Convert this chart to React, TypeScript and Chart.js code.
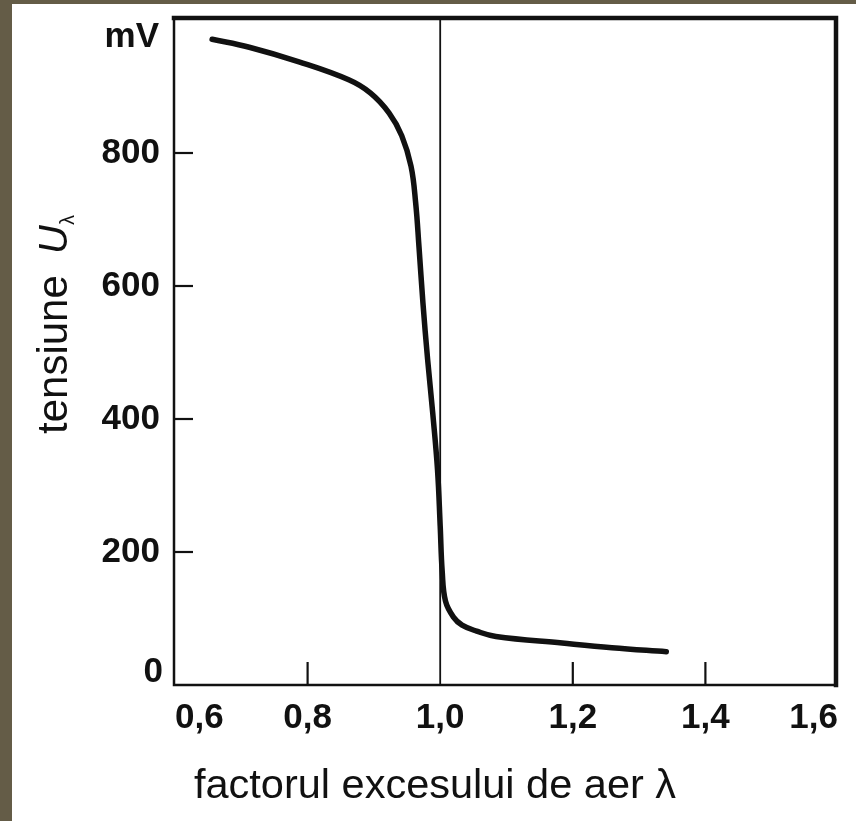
import React, { useEffect, useRef } from "react";
import { Chart, registerables } from "chart.js";

Chart.register(...registerables);

// Data (λ, mV)
const lambdaValues = [0.656, 0.712, 0.787, 0.862, 0.895, 0.923, 0.942, 0.956, 0.963, 0.968, 0.974, 0.981, 0.989, 0.996, 1.0, 1.003, 1.008, 1.02, 1.033, 1.055, 1.084, 1.184, 1.259, 1.341];
const voltageValues = [971, 959, 937, 910, 890, 860, 826, 780, 725, 659, 574, 490, 406, 323, 239, 171, 126, 102, 90, 81, 73, 63, 56, 50];

// Axis ticks
const xTickValues = [0.6, 0.8, 1.0, 1.2, 1.4, 1.6];
const yTickValues = [0, 200, 400, 600, 800, 1000];
const xInnerTickMarks = [0.8, 1.2, 1.4];
const yInnerTickMarks = [200, 400, 600, 800];
const stoichLambda = 1.0;

const xTitle = "factorul excesului de aer λ";
const yTitleMain = "tensiune";
const yTitleSymbol = "U";
const yTitleSub = "λ";
const yTopLabel = "mV";
const yZeroLabel = "0";

const FONT = "'Liberation Sans', Arial, Helvetica, sans-serif";
const INK = "#111111";

const decorPlugin = {
  id: "decor",
  beforeDatasetsDraw(chart: any) {
    const { ctx, chartArea, scales } = chart;
    const xs = scales.x;
    const ys = scales.y;
    const left = chartArea.left - 1;
    const bottom = chartArea.bottom;
    ctx.save();
    ctx.strokeStyle = INK;
    ctx.lineCap = "square";
    // left and bottom axes
    ctx.lineWidth = 2.5;
    ctx.beginPath();
    ctx.moveTo(left, chartArea.top - 2);
    ctx.lineTo(left, bottom);
    ctx.lineTo(chartArea.right - 2, bottom);
    ctx.stroke();
    // top and right frame (thicker)
    ctx.lineWidth = 4.5;
    ctx.beginPath();
    ctx.moveTo(left, chartArea.top - 2);
    ctx.lineTo(chartArea.right - 2, chartArea.top - 2);
    ctx.lineTo(chartArea.right - 2, bottom);
    ctx.stroke();
    // vertical line at λ = 1
    ctx.lineCap = "butt";
    ctx.lineWidth = 1.8;
    const x1 = xs.getPixelForValue(stoichLambda);
    ctx.beginPath();
    ctx.moveTo(x1, chartArea.top);
    ctx.lineTo(x1, bottom);
    ctx.stroke();
    // inner tick marks
    ctx.lineWidth = 2.2;
    for (const v of xInnerTickMarks) {
      const px = xs.getPixelForValue(v);
      ctx.beginPath();
      ctx.moveTo(px, bottom);
      ctx.lineTo(px, bottom - 23);
      ctx.stroke();
    }
    for (const v of yInnerTickMarks) {
      const py = ys.getPixelForValue(v);
      ctx.beginPath();
      ctx.moveTo(left, py);
      ctx.lineTo(left + 19, py);
      ctx.stroke();
    }
    ctx.restore();
  },
  afterDraw(chart: any) {
    const { ctx, chartArea } = chart;
    ctx.save();
    ctx.fillStyle = INK;
    // special y labels
    ctx.font = `bold 35px ${FONT}`;
    ctx.textAlign = "right";
    ctx.textBaseline = "middle";
    ctx.fillText(yTopLabel, 159, 37);
    ctx.fillText(yZeroLabel, 163, chartArea.bottom - 13);
    // x title
    ctx.font = `41.5px ${FONT}`;
    ctx.textAlign = "center";
    ctx.textBaseline = "alphabetic";
    ctx.fillText(xTitle, 435, 798);
    // y title (rotated)
    ctx.translate(67, 434);
    ctx.rotate(-Math.PI / 2);
    ctx.textAlign = "left";
    ctx.font = `42px ${FONT}`;
    ctx.fillText(yTitleMain, 0, 0);
    ctx.font = `italic 40px ${FONT}`;
    ctx.fillText(yTitleSymbol, 180, 0);
    ctx.font = `20px ${FONT}`;
    ctx.fillText(yTitleSub, 209, 7);
    ctx.restore();
  },
};

export default function App() {
  const canvasRef = useRef<HTMLCanvasElement | null>(null);

  useEffect(() => {
    const canvas = canvasRef.current;
    if (!canvas) return;
    const points = lambdaValues.map((x, i) => ({ x, y: voltageValues[i] }));
    const chart = new Chart(canvas, {
      type: "line",
      data: {
        datasets: [
          {
            data: points,
            borderColor: INK,
            borderWidth: 5.5,
            pointRadius: 0,
            fill: false,
            tension: 0.4,
            borderCapStyle: "round",
            borderJoinStyle: "round",
          } as any,
        ],
      },
      options: {
        responsive: false,
        animation: false,
        layout: { padding: { top: 20, right: 18, left: 0, bottom: 0 } },
        plugins: {
          legend: { display: false },
          tooltip: { enabled: false },
          title: { display: false },
        },
        scales: {
          x: {
            type: "linear",
            min: 0.6,
            max: 1.6,
            afterBuildTicks: (s: any) => {
              s.ticks = xTickValues.map((v) => ({ value: v }));
            },
            afterFit: (s: any) => {
              s.height = 136;
              s.paddingLeft = 0;
              s.paddingRight = 0;
            },
            ticks: {
              autoSkip: false,
              maxRotation: 0,
              align: "inner",
              padding: 12,
              color: INK,
              font: { family: FONT, size: 35, weight: "bold" },
              callback: (v: any) => Number(v).toFixed(1).replace(".", ","),
            },
            grid: { display: false, drawTicks: false },
            border: { display: false },
          },
          y: {
            type: "linear",
            min: 0,
            max: 1000,
            afterBuildTicks: (s: any) => {
              s.ticks = yTickValues.map((v) => ({ value: v }));
            },
            afterFit: (s: any) => {
              s.width = 175;
              s.paddingTop = 0;
              s.paddingBottom = 0;
            },
            ticks: {
              autoSkip: false,
              padding: 15,
              color: INK,
              font: { family: FONT, size: 35, weight: "bold" },
              callback: (v: any) => (v === 0 || v === 1000 ? "" : String(v)),
            },
            grid: { display: false, drawTicks: false },
            border: { display: false },
          },
        },
      } as any,
      plugins: [decorPlugin],
    });
    return () => chart.destroy();
  }, []);

  return (
    <div
      style={{
        position: "fixed",
        left: 0,
        top: 0,
        width: 856,
        height: 821,
        background: "#645c47",
        overflow: "hidden",
      }}
    >
      <div
        style={{
          position: "absolute",
          left: 12,
          top: 4,
          width: 844,
          height: 817,
          background: "#ffffff",
        }}
      />
      <canvas
        ref={canvasRef}
        width={856}
        height={821}
        style={{ position: "absolute", left: 0, top: 0, width: 856, height: 821 }}
      />
    </div>
  );
}
